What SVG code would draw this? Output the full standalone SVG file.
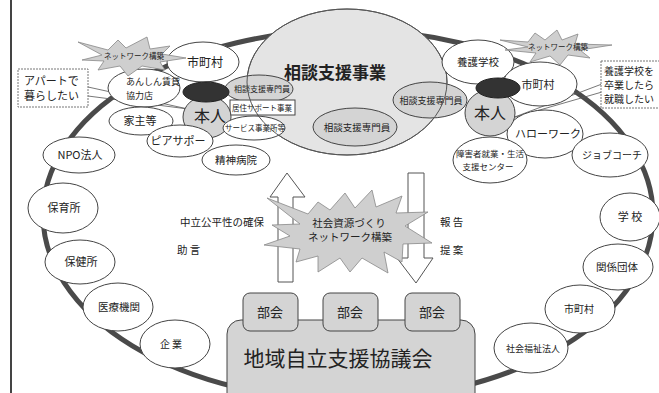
<svg xmlns="http://www.w3.org/2000/svg" width="659" height="393" viewBox="0 0 659 393">
<style>
.n{fill:#fff;stroke:#444;stroke-width:1}
.s{fill:#d4d4d4;stroke:#444;stroke-width:1}
.b{fill:#e4e4e4;stroke:#555;stroke-width:1}
.d{fill:#333;stroke:#222;stroke-width:1}
.st{fill:#cfcfcf;stroke:#888;stroke-width:0.8}
.ar{fill:#fff;stroke:#555;stroke-width:1}
.cb{fill:#fff;stroke:#777;stroke-width:1;stroke-dasharray:2 1}
.ln{stroke:#555;stroke-width:0.8;fill:none}
text{font-family:"Noto Sans CJK JP","Noto Sans",sans-serif;fill:#222;text-anchor:middle}
.l{text-anchor:start}
</style>
<rect width="659" height="393" fill="#fff"/>
<line x1="11" y1="0" x2="11" y2="393" stroke="#444" stroke-width="2"/>

<g id="connectors">
<ellipse cx="348" cy="215" rx="305" ry="185" fill="none" stroke="#4a4a4a" stroke-width="5"/>
<line class="ln" x1="88" y1="87" x2="188" y2="109"/>
<line class="ln" x1="88" y1="96" x2="188" y2="109"/>
<line class="ln" x1="602" y1="84" x2="512" y2="118"/>
<line class="ln" x1="602" y1="92" x2="512" y2="118"/>
<path class="ar" d="M278,282 L278,197 L270,197 L287,173 L305,197 L293,197 L293,282 Z"/>
<path class="ar" d="M408,173 L424,173 L424,258 L433,258 L416,283 L397,258 L408,258 Z"/>
</g>

<g id="soudan-shien-jigyo">
<ellipse class="b" cx="347" cy="82" rx="100" ry="73"/>
<text x="335" y="79" font-size="17" font-weight="bold">相談支援事業</text>
</g>

<g id="left-cluster">
<g id="shichoson-l"><ellipse class="n" cx="203" cy="62" rx="36" ry="20"/><text x="205" y="67" font-size="12">市町村</text></g>
<g id="anshin"><ellipse class="n" cx="144" cy="88" rx="36" ry="19"/><text class="l" x="126" y="85" font-size="9">あんしん賃貸</text><text class="l" x="126" y="99" font-size="9">協力店</text></g>
<g id="yanushi"><ellipse class="n" cx="141" cy="121" rx="32" ry="14"/><text x="140" y="125" font-size="11">家主等</text></g>
<g id="senmonin-l"><ellipse class="s" cx="259" cy="89" rx="34" ry="14"/><text x="262" y="92" font-size="8">相談支援専門員</text></g>
<g id="kyoju"><rect class="n" x="230" y="100" width="65" height="15"/><text x="262" y="111" font-size="7.5">居住サポート事業</text></g>
<g id="honnin-l"><ellipse class="s" cx="207" cy="117" rx="24" ry="21"/><ellipse class="d" cx="206" cy="92" rx="23" ry="10"/><text x="210" y="122" font-size="16">本人</text></g>
<g id="service"><ellipse class="n" cx="254" cy="128" rx="31" ry="12"/><text x="255" y="131" font-size="7.5">サービス事業所等</text></g>
<g id="piasapo"><ellipse class="n" cx="180" cy="141" rx="33" ry="16"/><text x="178" y="145" font-size="11">ピアサポー</text></g>
<g id="seishin"><ellipse class="n" cx="236" cy="160" rx="34" ry="15"/><text x="236" y="164" font-size="10.5">精神病院</text></g>
</g>

<g id="senmonin-c"><ellipse class="s" cx="355" cy="127" rx="42" ry="19"/><text x="357" y="131" font-size="9.5">相談支援専門員</text></g>
<g id="senmonin-r"><ellipse class="s" cx="430" cy="100" rx="37" ry="18"/><text x="431" y="104" font-size="9">相談支援専門員</text></g>
<ellipse cx="347" cy="82" rx="100" ry="73" fill="none" stroke="#555" stroke-width="1"/>

<g id="right-cluster">
<g id="yogo"><ellipse class="n" cx="478" cy="62" rx="36" ry="22"/><text x="478" y="66" font-size="10.5">養護学校</text></g>
<g id="shichoson-r"><ellipse class="n" cx="540" cy="84" rx="37" ry="22"/><text x="538" y="89" font-size="11">市町村</text></g>
<g id="hellowork"><ellipse class="n" cx="545" cy="134" rx="38" ry="24"/><text x="548" y="138" font-size="11">ハローワーク</text></g>
<g id="jobcoach"><ellipse class="n" cx="610" cy="155" rx="38" ry="22"/><text x="612" y="159" font-size="10">ジョブコーチ</text></g>
<g id="shogaisha"><ellipse class="n" cx="490" cy="160" rx="37" ry="23"/><text x="490" y="157" font-size="8.5">障害者就業・生活</text><text x="488" y="170" font-size="8.5">支援センター</text></g>
<g id="honnin-r"><ellipse class="s" cx="490" cy="113" rx="25" ry="23"/><ellipse class="d" cx="498" cy="88" rx="22" ry="10"/><text x="490" y="119" font-size="16">本人</text></g>
</g>

<g id="npo"><ellipse class="n" cx="79" cy="155" rx="36" ry="18"/><text x="80" y="159" font-size="11">NPO法人</text></g>
<g id="hoikusho"><ellipse class="n" cx="63" cy="208" rx="35" ry="25"/><text x="64" y="212" font-size="11">保育所</text></g>
<g id="hokensho"><ellipse class="n" cx="80" cy="262" rx="35" ry="22"/><text x="81" y="266" font-size="11">保健所</text></g>
<g id="iryo"><ellipse class="n" cx="118" cy="307" rx="35" ry="24"/><text x="119" y="311" font-size="10.5">医療機関</text></g>
<g id="kigyo"><ellipse class="n" cx="175" cy="344" rx="35" ry="24"/><text x="171" y="348" font-size="10">企 業</text></g>
<g id="gakko"><ellipse class="n" cx="630" cy="217" rx="30" ry="24"/><text x="630" y="221" font-size="11">学 校</text></g>
<g id="kankei"><ellipse class="n" cx="618" cy="267" rx="35" ry="23"/><text x="617" y="271" font-size="10.5">関係団体</text></g>
<g id="shichoson-br"><ellipse class="n" cx="580" cy="309" rx="35" ry="24"/><text x="579" y="313" font-size="10">市町村</text></g>
<g id="fukushi"><ellipse class="n" cx="531" cy="348" rx="37" ry="25"/><text x="533" y="352" font-size="9">社会福祉法人</text></g>

<g id="star-l"><path class="st" d="M78,42 L108,50 L118,40 L126,48 L147,37 L150,49 L170,46 L162,54 L186,58 L160,62 L165,70 L142,66 L128,76 L120,66 L98,70 L104,61 L82,60 L102,55 Z"/><text x="134" y="59" font-size="7.5">ネットワーク構築</text></g>
<g id="star-r"><path class="st" d="M500,40 L528,42 L535,33 L545,40 L557,30 L562,40 L578,34 L575,44 L612,45 L580,50 L590,58 L568,55 L560,65 L550,56 L530,62 L536,53 L505,50 L528,47 Z"/><text x="558" y="50" font-size="7.5">ネットワーク構築</text></g>

<g id="callout-l"><rect class="cb" x="18" y="69" width="70" height="38"/><text class="l" x="24" y="85" font-size="11">アパートで</text><text class="l" x="24" y="100" font-size="11">暮らしたい</text></g>
<g id="callout-r"><rect class="cb" x="601" y="61" width="62" height="47"/><text class="l" x="604" y="75" font-size="10">養護学校を</text><text class="l" x="604" y="89" font-size="10">卒業したら</text><text class="l" x="604" y="103" font-size="10">就職したい</text></g>

<g id="star-c"><path class="st" d="M267,198 L308,214 L318,202 L330,210 L345,193 L355,208 L372,190 L376,207 L402,196 L396,213 L428,212 L405,226 L432,243 L403,244 L402,262 L384,252 L388,273 L362,258 L350,272 L340,258 L318,272 L318,256 L296,262 L300,249 L264,245 L290,236 L272,225 L300,224 Z"/><text x="349" y="227" font-size="10.5">社会資源づくり</text><text x="350" y="241" font-size="10.5">ネットワーク構築</text></g>

<g id="labels">
<text class="l" x="180" y="226" font-size="10.5">中立公平性の確保</text>
<text class="l" x="177" y="254" font-size="10.5">助 言</text>
<text class="l" x="440" y="226" font-size="10.5">報 告</text>
<text class="l" x="440" y="254" font-size="10.5">提 案</text>
</g>

<g id="kyogikai"><rect class="s" x="227" y="320" width="248" height="90" rx="14"/><text x="338" y="366" font-size="21">地域自立支援協議会</text></g>
<g id="bukai-1"><rect class="s" x="243" y="293" width="55" height="38" rx="7"/><text x="270" y="317" font-size="13">部会</text></g>
<g id="bukai-2"><rect class="s" x="323" y="293" width="55" height="38" rx="7"/><text x="350" y="317" font-size="13">部会</text></g>
<g id="bukai-3"><rect class="s" x="405" y="293" width="55" height="38" rx="7"/><text x="432" y="317" font-size="13">部会</text></g>
</svg>
